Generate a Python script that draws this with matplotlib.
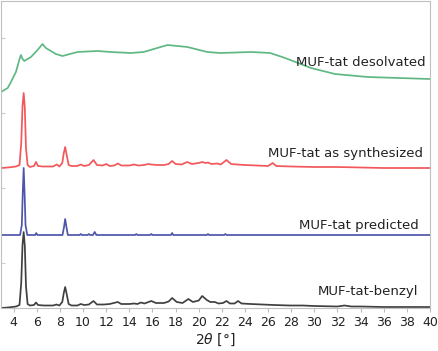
import matplotlib
matplotlib.use("Agg")
import matplotlib.pyplot as plt

# 2theta (deg) / intensity (a.u.), each trace above its own baseline
desolv_x = [2.9, 3.48, 3.76, 4.19, 4.48, 4.62, 4.77, 4.91, 5.49, 6.06, 6.49, 6.78, 7.21, 7.64,
            8.22, 9.51, 11.24, 12.38, 14.11, 15.23, 17.3, 19.02, 20.74, 21.87, 24.54, 26.18,
            27.47, 29.71, 31.78, 34.62, 40.0]
desolv_y = [0, 4, 10, 20, 32, 37, 33, 31, 35, 42, 48, 44, 41, 38,
            36, 40, 41, 40, 39, 40, 47, 45, 40, 39, 40, 39,
            34, 24, 18, 15, 13]

synth_x = [2.9, 3.5, 4.2, 4.5, 4.65, 4.76, 4.86, 4.96, 5.06, 5.2, 5.4, 5.75, 5.93, 6.1, 6.5,
           7.4, 7.73, 7.95, 8.2, 8.33, 8.45, 8.58, 8.75, 9.0, 9.5, 9.8, 10.1, 10.5, 10.9, 11.2,
           11.7, 12.0, 12.3, 12.7, 13.0, 13.3, 14.0, 14.4, 14.8, 15.3, 15.6, 15.9, 16.4, 17.0,
           17.4, 17.7, 18.0, 18.5, 19.0, 19.4, 20.0, 20.3, 20.6, 20.8, 21.1, 21.6, 21.9, 22.4,
           22.8, 23.3, 24.0, 25.0, 26.0, 26.4, 26.7, 28.0, 30.0, 32.0, 34.0, 36.0, 38.0, 40.0]
synth_y = [0, 0.5, 1.5, 3, 25, 62, 75, 60, 20, 3, 1, 2, 6, 2, 1.5,
           1.5, 3.5, 1.5, 5, 15, 21, 13, 3, 2, 2, 3.5, 2, 3, 8, 3,
           2.5, 4, 2, 2.5, 4.5, 2.5, 2.5, 3.5, 2.5, 3, 4, 3.5, 3, 3,
           4, 7, 4, 3.5, 6, 4, 5, 6, 5, 5.5, 4, 4.5, 3.5, 8,
           4, 3.5, 3, 2.5, 2, 5, 2, 1.5, 1, 1, 0.5, 0, 0, 0]

pred_x = [2.9, 4.55, 4.7, 4.78, 4.86, 4.94, 5.02, 5.17, 5.85, 5.95, 6.05, 8.22, 8.35, 8.45,
          8.56, 8.68, 9.7, 9.8, 9.9, 10.4, 10.5, 10.6, 10.85, 11.0, 11.15, 14.5, 14.6, 14.7,
          15.8, 15.9, 16.0, 17.6, 17.7, 17.8, 20.7, 20.8, 20.9, 22.2, 22.3, 22.4, 40.0]
pred_y = [0, 0, 10, 42, 67, 42, 10, 0, 0, 2, 0, 0, 8, 16,
          8, 0, 0, 1, 0, 0, 1, 0, 0, 3, 0, 0, 1, 0,
          0, 1, 0, 0, 2, 0, 0, 1, 0, 0, 1, 0, 0]

benzyl_x = [2.9, 3.5, 4.2, 4.5, 4.65, 4.76, 4.86, 4.96, 5.06, 5.2, 5.4, 5.75, 5.93, 6.1,
            6.6, 7.4, 7.7, 7.95, 8.2, 8.33, 8.45, 8.58, 8.75, 9.0, 9.5, 9.8, 10.1, 10.5,
            10.9, 11.2, 11.8, 12.3, 13.0, 13.3, 14.0, 14.4, 14.7, 15.0, 15.3, 15.9, 16.3,
            17.0, 17.4, 17.7, 18.1, 18.6, 19.1, 19.5, 20.0, 20.3, 20.7, 21.0, 21.4, 21.7,
            22.1, 22.4, 22.7, 23.1, 23.4, 23.7, 24.5, 25.5, 26.5, 27.9, 29.0, 30.0, 32.0,
            32.6, 33.2, 34.0, 36.0, 38.0, 40.0]
benzyl_y = [0, 0.5, 1.5, 3, 25, 63, 76, 62, 22, 4, 2.5, 3, 5.5, 3,
            2.5, 2.5, 3.5, 2.5, 6, 15, 21, 14, 4, 2.5, 2.5, 4, 3, 3.5,
            7, 3.5, 3.5, 4, 6, 4, 4, 4.5, 4, 5.5, 4.5, 7, 5,
            5, 6.5, 10, 6, 5, 9, 6, 7.5, 12, 8, 6, 6, 4.5,
            5, 7, 4.5, 4.5, 7, 4.5, 4, 3.5, 3, 2.5, 2.5, 2, 1.5,
            2.5, 1.5, 1.5, 1, 1, 1]

names = ["MUF-tat desolvated", "MUF-tat as synthesized", "MUF-tat predicted", "MUF-tat-benzyl"]
offsets = [216, 140, 73, 0]
colors = ["#5fb883", "#f2575a", "#4f55ab", "#404040"]
label_y = [246, 155, 83, 16]
label_x = [39.6, 39.4, 39.0, 39.0]

fig = plt.figure(figsize=(4.38, 3.51), dpi=100)
ax = fig.add_axes([1 / 438, 1 - 308 / 351, 429 / 438, 307 / 351])

series = [(desolv_x, desolv_y), (synth_x, synth_y), (pred_x, pred_y), (benzyl_x, benzyl_y)]
for (xs, ys), off, c in zip(series, offsets, colors):
    ax.plot(xs, [v + off for v in ys], color=c, lw=1.25)

for n, lx, ly in zip(names, label_x, label_y):
    ax.text(lx, ly, n, ha="right", va="center", fontsize=9.5, color="#222222")

ax.set_xlim(2.9, 40)
ax.set_ylim(0, 307)
ax.set_xticks(range(4, 41, 2))
ax.set_yticks([45, 120, 195, 270])
ax.set_yticklabels([])
ax.tick_params(axis="x", direction="out", length=3, color="#bbbbbb", labelsize=9,
               labelcolor="#222222", pad=3)
ax.tick_params(axis="y", direction="in", length=3, color="#cccccc")
for s in ax.spines.values():
    s.set_color("#c0c0c0")
    s.set_linewidth(0.8)
ax.set_xlabel(r"2$\theta$ [°]", fontsize=10, color="#222222", labelpad=2)

fig.savefig("out.png", dpi=100)
